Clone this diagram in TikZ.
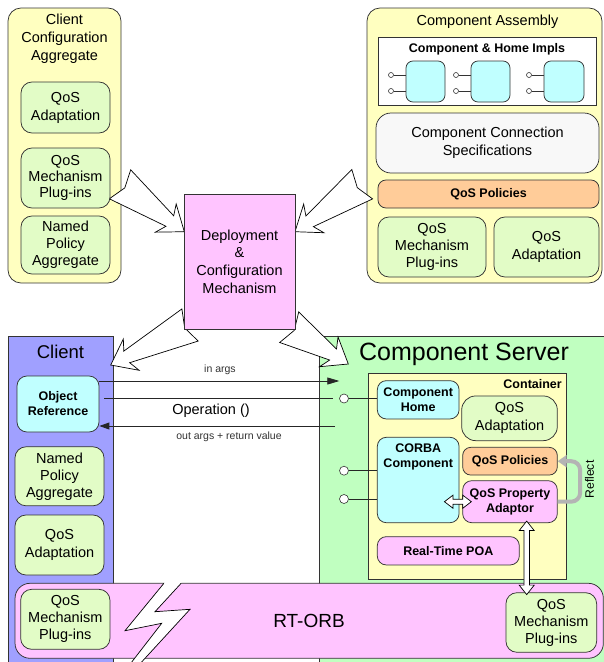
\documentclass[tikz,border=0pt]{standalone}
\usepackage{fontspec}
\setmainfont{Liberation Sans}
\usetikzlibrary{calc,arrows.meta}
\definecolor{cyell}{HTML}{FFFFC0}
\definecolor{cgreen}{HTML}{E2FCC6}
\definecolor{ccyan}{HTML}{C0FFFF}
\definecolor{cpink}{HTML}{FFC4FF}
\definecolor{corange}{HTML}{FFCC99}
\definecolor{cblue}{HTML}{A0A0FF}
\definecolor{cserver}{HTML}{C0FFC0}
\definecolor{cspec}{HTML}{F8F8F8}
\definecolor{edge}{HTML}{333333}
\definecolor{refl}{HTML}{B4B4B4}
\newcommand{\regf}{\fontsize{14.5}{17}\selectfont}
\newcommand{\boldf}{\fontsize{12.5}{15}\selectfont\bfseries}
\newcommand{\smallf}{\fontsize{10.5}{12}\selectfont}
\newcommand{\blockarr}[2]{% #1 tail, #2 tip
  \filldraw[barrow] (#2) -- ($(#2)!28.9pt!37.3:(#1)$) -- ($(#2)!19.1pt!19.9:(#1)$)
    -- ($(#1)!18pt!-90:(#2)$) -- ($(#1)!6pt!(#2)$) -- ($(#1)!18pt!90:(#2)$)
    -- ($(#2)!19.1pt!-19.9:(#1)$) -- ($(#2)!28.9pt!-37.3:(#1)$) -- cycle;}
\begin{document}
\begin{tikzpicture}[x=1pt,y=-1pt,
  bx/.style={draw=edge, line width=0.75pt, inner sep=0pt, align=center, font=\regf},
  rb/.style={bx, rounded corners=#1},
  rb/.default=11pt,
  sz/.style 2 args={minimum width=#1pt, minimum height=#2pt},
  grn/.style={rb, fill=cgreen},
  txt/.style={inner sep=0pt, align=center, font=\regf},
  sport/.style={circle, draw=edge, fill=white, inner sep=0pt, minimum size=5pt, line width=0.6pt},
  conn/.style={draw=black!85, line width=0.8pt},
  barrow/.style={fill=white, draw=black, line width=0.7pt, line join=miter},
  harrow/.style={fill=white, draw=black, line width=0.7pt}]
\useasboundingbox (0,0) rectangle (604,662);
\fill[white] (0,0) rectangle (604,662);

% ---------- top left: client configuration aggregate
\node[rb=13pt, fill=cyell, sz={113}{275}] (cca) at (64.5,145.5) {};
\node[txt, font=\fontsize{14.5}{18}\selectfont] (ccat) at (64.5,39) {Client\\Configuration\\Aggregate};

% ---------- top right: component assembly
\node[rb=13pt, fill=cyell, sz={235}{275}] (ca) at (484.5,145.5) {};
\node[txt] (cat) at (487.5,22) {Component Assembly};

% ---------- bottom frames
\node[bx, fill=cblue, sz={105}{340}, anchor=north west] (cl) at (8,336) {};
\node[bx, fill=cserver, sz={300}{340}, anchor=north west] (srv) at (319,336) {};

% ---------- block arrows
\coordinate (a1t) at (120,184.3);
\coordinate (a1h) at (184.3,231.7);
\coordinate (a2t) at (362.2,184.2);
\coordinate (a2h) at (295,231.7);
\coordinate (a3t) at (190,325);
\coordinate (a3h) at (110.7,365);
\coordinate (a4t) at (289.2,327.2);
\coordinate (a4h) at (348.3,364);
\blockarr{a1t}{a1h}
\blockarr{a2t}{a2h}
\blockarr{a3t}{a3h}
\blockarr{a4t}{a4h}

% ---------- deployment & configuration
\node[bx, fill=cpink, sz={111}{135}, font=\fontsize{14.5}{17.7}\selectfont] (dc) at (239.5,261.5)
  {Deployment\\\&\\Configuration\\Mechanism};

% ---------- inner boxes top left
\node[grn, sz={89}{51}, font=\fontsize{14.5}{18}\selectfont] (ccaad) at (65.5,107.5) {QoS\\Adaptation};
\node[grn, sz={89}{60}, font=\fontsize{14.5}{16}\selectfont] (ccamp) at (65.5,178) {QoS\\Mechanism\\Plug-ins};
\node[grn, sz={89}{58}] (ccanp) at (65.5,245) {Named\\Policy\\Aggregate};

% ---------- inner boxes top right
\node[bx, fill=white, sz={218}{68}] (impl) at (487,71) {};
\node[txt, font=\boldf] (implt) at (487,49) {Component \& Home Impls};
\node[rb=7pt, fill=ccyan, sz={39}{41}] (i1) at (425.5,81.5) {};
\node[rb=7pt, fill=ccyan, sz={39}{41}] (i2) at (490.5,81.5) {};
\node[rb=7pt, fill=ccyan, sz={40}{41}] (i3) at (564,81.5) {};
\foreach \n/\x in {i1/391, i2/456, i3/529} {
  \node[sport] (\n-a) at (\x,75) {};
  \node[sport] (\n-b) at (\x,91) {};
  \draw[draw=edge, line width=0.8pt] (\n-a) -- (\n-a -| \n.west);
  \draw[draw=edge, line width=0.8pt] (\n-b) -- (\n-b -| \n.west);
}
\node[rb=15pt, fill=cspec, sz={223}{60}, font=\fontsize{14.5}{18}\selectfont] (ccs) at (487.5,143) {Component Connection\\Specifications};
\node[rb=8pt, fill=corange, sz={221}{28}, font=\boldf] (capol) at (488.5,194) {QoS Policies};
\node[grn, sz={108}{60}] (camp) at (432,247) {QoS\\Mechanism\\Plug-ins};
\node[grn, sz={105}{60}, font=\fontsize{14.5}{18}\selectfont] (caad) at (546.5,247) {QoS\\Adaptation};

% ---------- client
\node[txt, font=\fontsize{18.5}{22}\selectfont] (clt) at (60.5,352) {Client};
\node[rb=10pt, fill=ccyan, sz={82}{56}, font=\boldf] (objref) at (58,404) {Object\\Reference};
\node[grn, sz={89}{59}] (clnp) at (59.5,476.3) {Named\\Policy\\Aggregate};
\node[grn, sz={89}{60}, font=\fontsize{14.5}{18}\selectfont] (clad) at (59.5,545) {QoS\\Adaptation};

% ---------- component server
\node[txt, font=\fontsize{25}{30}\selectfont] (srvt) at (464,354) {Component Server};
\node[bx, fill=cyell, sz={198.4}{206}] (cont) at (467.5,476.3) {};
\node[txt, font=\boldf, anchor=east] (contt) at (562,384) {Container};
\node[rb=9pt, fill=ccyan, sz={81.7}{38.3}, font=\fontsize{12.5}{14.7}\selectfont\bfseries] (home) at (418.2,399.8) {Component\\Home};
\node[grn, rounded corners=14pt, sz={95.6}{44.7}, font=\fontsize{14.5}{18}\selectfont] (ctad) at (509.5,418.3) {QoS\\Adaptation};
\node[rb=9pt, fill=ccyan, sz={81.7}{85.4}] (corba) at (418.2,480) {};
\node[txt, font=\boldf] (corbat) at (418.2,456.5) {CORBA\\Component};
\node[rb=8pt, fill=corange, sz={94.6}{27.7}, font=\boldf] (ctpol) at (510,461.2) {QoS Policies};
\node[rb=9pt, fill=cpink, sz={94.6}{42}, font=\boldf] (qpa) at (510,501.7) {QoS Property\\Adaptor};
\node[rb=9pt, fill=cpink, sz={142}{28.3}, font=\boldf] (poa) at (448.3,550.8) {Real-Time POA};

% ports on the server
\node[sport, minimum size=9pt] (p1) at (344,398.5) {};
\node[sport, minimum size=9pt] (p2) at (344,470.7) {};
\node[sport, minimum size=9pt] (p3) at (344,499) {};
\draw[conn] (p1) -- (p1 -| home.west);
\draw[conn] (p2) -- (p2 -| corba.west);
\draw[conn] (p3) -- (p3 -| corba.west);

% reflect
\draw[draw=refl, line width=4pt, rounded corners=9pt, -{Triangle[length=9pt,width=12pt]}]
  (qpa.east) -- ++(22.5,0) |- (ctpol.east);
\node[txt, font=\fontsize{12.2}{14}\selectfont, rotate=90] (reflt) at (589.5,479.5) {Reflect};

% horizontal double arrow
\coordinate (hl) at ($(corba.east |- qpa)+(-15,0)$);
\coordinate (hr) at ($(qpa.west)+(9,0)$);
\filldraw[harrow] (hl) -- ++(8.5,-6.5) -- ++(0,4) -- ($(hr)+(-8.5,-2.5)$) -- ++(0,-4) -- (hr)
  -- ++(-8.5,6.5) -- ++(0,-4) -- ($(hl)+(8.5,2.5)$) -- ++(0,4) -- cycle;

% ---------- RT-ORB
\node[rb=15pt, fill=cpink, sz={588.3}{75}] (orb) at (309.2,620.8) {};
\fill[white] (169.3,576.7) -- (125,630.7) -- (161.7,623.3) -- (130.2,664) -- (139.8,664)
  -- (190,609.3) -- (155,611.7) -- (181.7,582.7) -- cycle;
\draw[black, line width=0.7pt, line join=miter] (163.9,583.3) -- (125,630.7) -- (161.7,623.3) -- (130.2,664);
\draw[black, line width=0.7pt, line join=miter] (139.8,664) -- (190,609.3) -- (155,611.7) -- (181.1,583.3);
\node[txt, font=\fontsize{19}{23}\selectfont] (orbt) at (309,620.7) {RT-ORB};
\node[grn, sz={89.3}{60}] (orbl) at (65.3,619.3) {QoS\\Mechanism\\Plug-ins};
\node[grn, sz={90.7}{59.6}] (orbr) at (551.3,622.5) {QoS\\Mechanism\\Plug-ins};

% vertical double arrow
\coordinate (vt) at ($(526.7,0 |- qpa.south)+(0,-2)$);
\coordinate (vb) at ($(526.7,0 |- orbr.north)+(0,2.3)$);
\filldraw[harrow] (vt) -- ++(7.5,9.5) -- ++(-4.7,0) -- ($(vb)+(2.8,-9.5)$) -- ++(4.7,0) -- (vb)
  -- ++(-7.5,-9.5) -- ++(4.7,0) -- ($(vt)+(-2.8,9.5)$) -- ++(-4.7,0) -- cycle;

% ---------- invocation
\coordinate (inend) at (339.3,381);
\draw[conn, -{Triangle[length=12pt,width=7pt]}] (objref.east |- inend) -- (inend);
\node[txt, font=\smallf, text=black!80] (inl) at (220,370) {in args};
\draw[conn] ($(objref.east |- p1)+(5,0)$) -- ($(p1.west)+(-6,0)$);
\node[txt] (opl) at (211,411) {Operation ()};
\coordinate (outst) at (335,426);
\draw[conn, -{Triangle[length=10pt,width=7pt]}] (outst) -- (objref.east |- outst);
\node[txt, font=\smallf, text=black!80] (outl) at (229,437) {out args + return value};
\end{tikzpicture}
\end{document}
